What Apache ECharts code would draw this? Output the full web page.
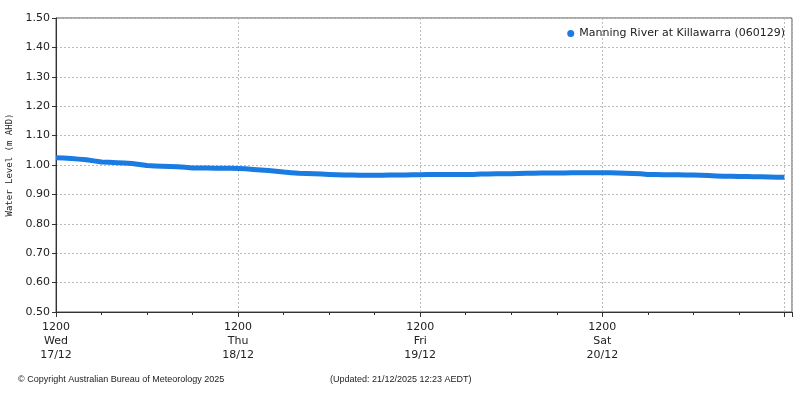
<!DOCTYPE html>
<html><head><meta charset="utf-8">
<script src="https://cdn.jsdelivr.net/npm/echarts@6/dist/echarts.min.js"></script>
<style>html,body{margin:0;padding:0;background:#fff}#c{width:800px;height:400px}</style>
</head><body><div id="c"></div>
<script>
const seriesName = "Manning River at Killawarra (060129)";
const dayLabels = ["1200\nWed\n17/12", "1200\nThu\n18/12", "1200\nFri\n19/12", "1200\nSat\n20/12"];
// hourly water levels from Wed 17/12 12:00 (hour 0) to Sun 21/12 12:00 (hour 96)
const levels = [
1.025,1.024,1.022,1.020,1.018,1.014,1.010,1.009,1.008,1.007,1.005,1.002,
0.998,0.997,0.996,0.995,0.994,0.992,0.990,0.990,0.990,0.989,0.989,0.989,
0.988,0.987,0.985,0.983,0.981,0.979,0.976,0.974,0.972,0.971,0.970,0.969,
0.968,0.967,0.966,0.966,0.965,0.965,0.965,0.965,0.966,0.966,0.966,0.967,
0.967,0.968,0.968,0.968,0.968,0.968,0.968,0.968,0.969,0.969,0.970,0.970,
0.970,0.971,0.972,0.972,0.973,0.973,0.973,0.973,0.974,0.974,0.974,0.974,
0.974,0.974,0.973,0.972,0.971,0.970,0.968,0.968,0.967,0.967,0.967,0.966,
0.966,0.965,0.964,0.963,0.962,0.962,0.961,0.961,0.960,0.960,0.959,0.958,
0.958];
const data = levels.map((v, i) => [i, v]);
const chart = echarts.init(document.getElementById('c'));
chart.setOption({
  animation: false,
  textStyle: { fontFamily: 'DejaVu Sans' },
  grid: { left: 56, right: 8, top: 18, bottom: 88, containLabel: false, outerBoundsMode: 'none' },
  legend: { right: 10, top: 23, itemWidth: 7, itemHeight: 7, itemGap: 6, icon: 'circle',
    textStyle: { fontSize: 11, color: '#222' }, data: [seriesName] },
  xAxis: {
    type: 'value', min: 0, max: 97, interval: 24,
    axisLine: { lineStyle: { color: '#333' } },
    axisTick: { length: 5, lineStyle: { color: '#333' } },
    minorTick: { show: true, splitNumber: 4, length: 3, lineStyle: { color: '#333' } },
    splitLine: { show: true, lineStyle: { type: [2, 2], color: '#bbb' } },
    axisLabel: { showMaxLabel: false, color: '#222', fontSize: 11, lineHeight: 14,
      formatter: v => dayLabels[v / 24] || '' }
  },
  yAxis: {
    type: 'value', min: 0.5, max: 1.5, interval: 0.1,
    name: 'Water Level (m AHD)', nameLocation: 'middle', nameGap: 38,
    nameTextStyle: { fontFamily: 'DejaVu Sans Mono', fontSize: 9, color: '#222' },
    axisLine: { show: true, lineStyle: { color: '#333' } },
    axisTick: { show: true, length: 4 },
    splitLine: { lineStyle: { type: [2, 2], color: '#bbb' } },
    axisLabel: { color: '#222', fontSize: 11, margin: 6, formatter: v => v.toFixed(2) }
  },
  graphic: [
    { type: 'rect', shape: { x: 56, y: 18, width: 736, height: 294 }, style: { fill: 'none', stroke: '#555' }, silent: true },
    { type: 'text', left: 18, top: 375, style: { text: '© Copyright Australian Bureau of Meteorology 2025', fontSize: 9, fill: '#222' } },
    { type: 'text', left: 330, top: 375, style: { text: '(Updated: 21/12/2025 12:23 AEDT)', fontSize: 9, fill: '#222' } }
  ],
  series: [{
    name: seriesName, type: 'line', data: data, showSymbol: false, symbol: 'circle',
    itemStyle: { color: '#1a7be0' }, lineStyle: { width: 5, color: '#1a7be0' }
  }]
});
</script></body></html>
